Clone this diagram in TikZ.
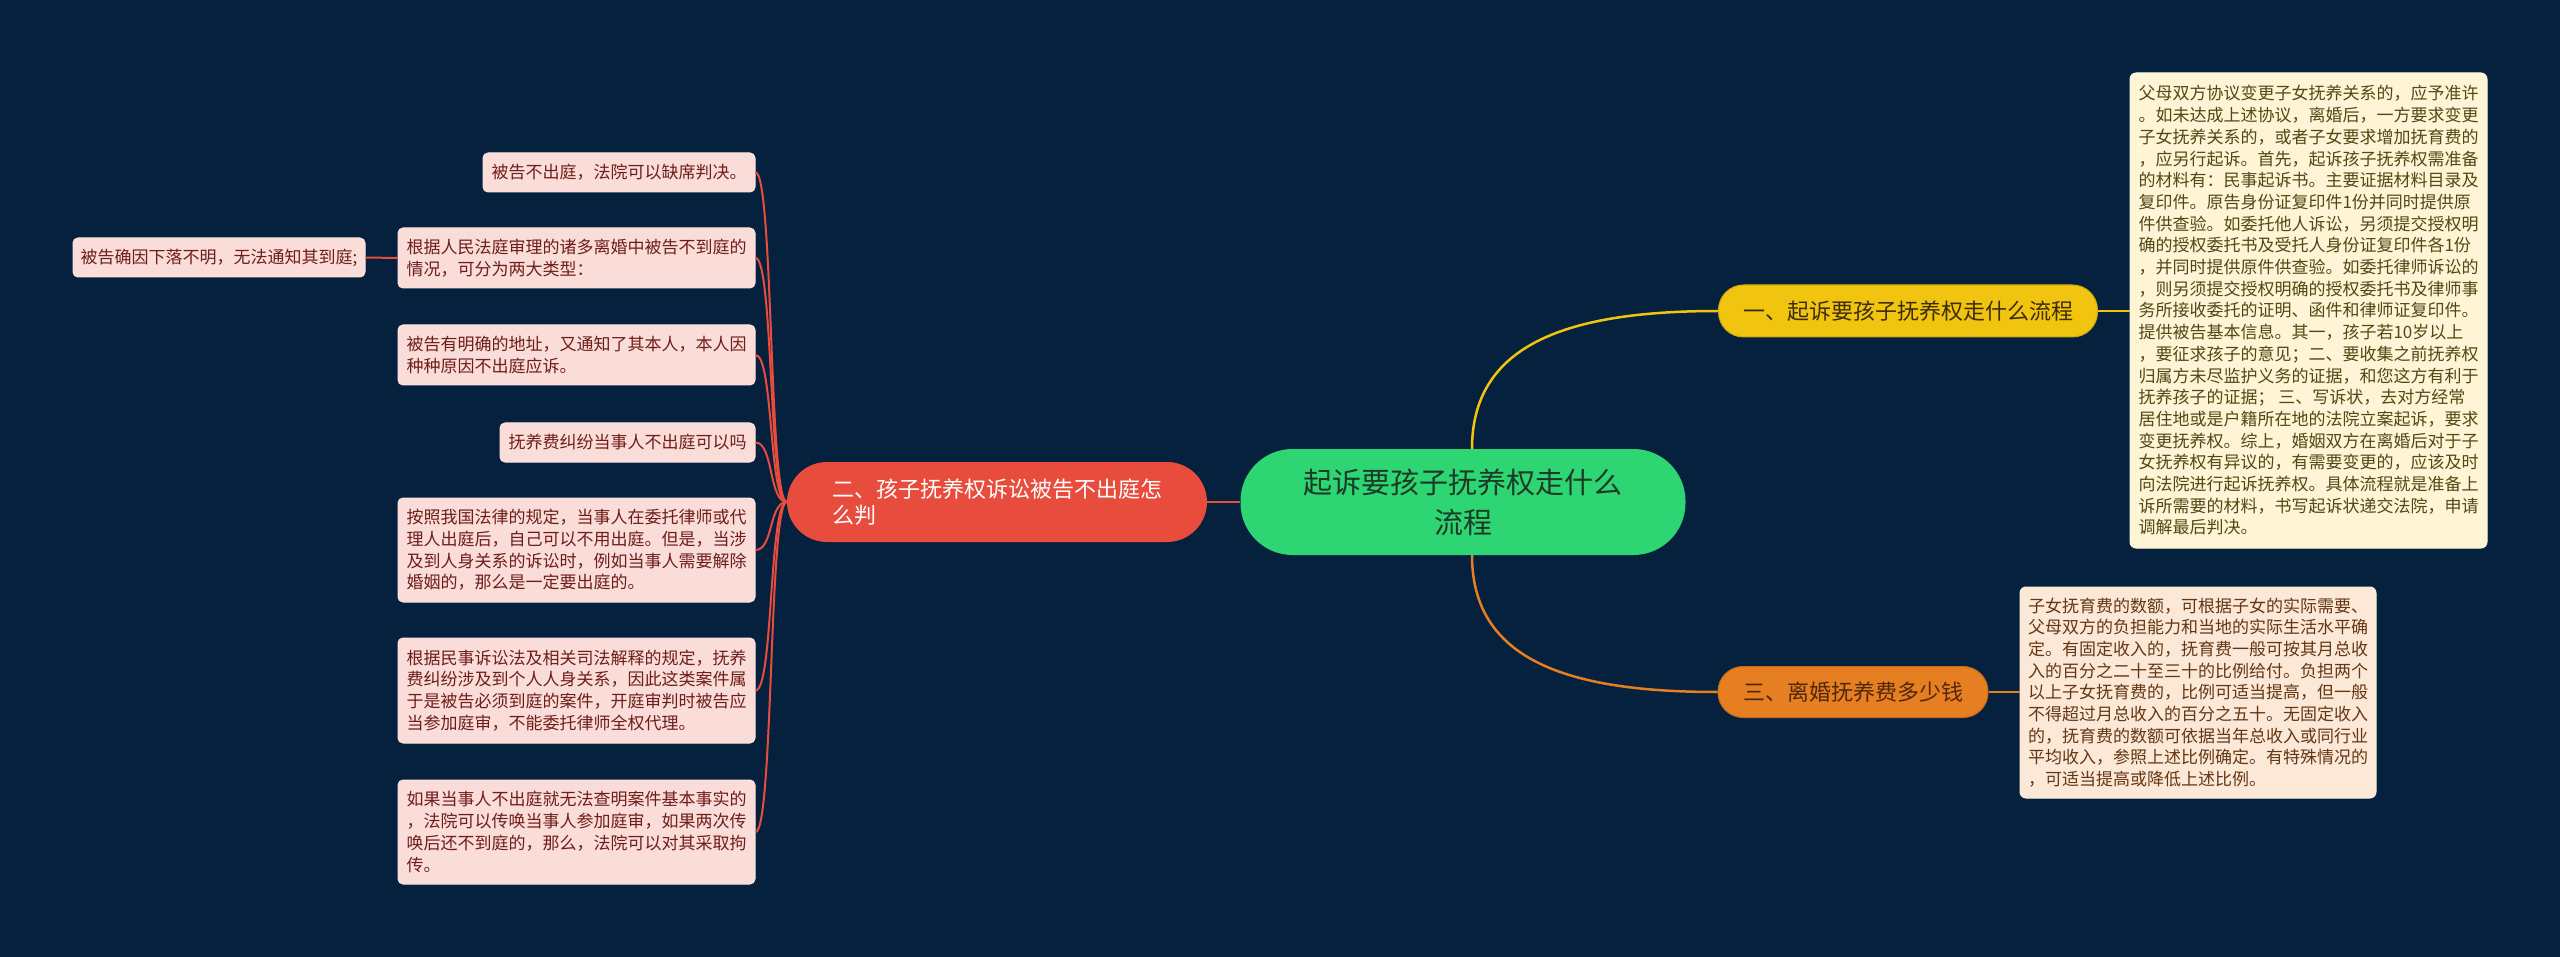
\documentclass[tikz,border=0pt]{standalone}
\usepackage{fontspec}
\setmainfont{Noto Sans CJK SC}
\definecolor{bg}{RGB}{5,33,62}
\definecolor{cgreen}{RGB}{46,213,115}
\definecolor{cgreentext}{RGB}{28,58,38}
\definecolor{cyellow}{RGB}{241,196,15}
\definecolor{cyellowtext}{RGB}{60,45,10}
\definecolor{cred}{RGB}{231,76,60}
\definecolor{corange}{RGB}{230,126,34}
\definecolor{corangetext}{RGB}{80,40,10}
\definecolor{pinkfill}{RGB}{250,220,217}
\definecolor{pinktext}{RGB}{110,30,25}
\definecolor{creamfill}{RGB}{253,245,213}
\definecolor{creamtext}{RGB}{85,70,20}
\definecolor{peachfill}{RGB}{252,232,215}
\definecolor{peachtext}{RGB}{100,55,20}
\begin{document}
\begin{tikzpicture}[x=1pt,y=-1pt,
  leafbox/.style={fill=pinkfill, draw=pinkfill!80!white, line width=1pt, text=pinktext, rounded corners=5pt, align=left, inner sep=0pt, font=\fontsize{17}{21.7}\selectfont},
  creambox/.style={fill=creamfill, draw=creamfill!80!white, line width=1pt, text=creamtext, rounded corners=6pt, align=left, inner sep=0pt, font=\fontsize{17}{21.7}\selectfont},
  peachbox/.style={fill=peachfill, draw=peachfill!80!white, line width=1pt, text=peachtext, rounded corners=6pt, align=left, inner sep=0pt, font=\fontsize{17}{21.7}\selectfont},
  leafline/.style={draw=cred, line width=2pt},
  mainline/.style={line width=2.5pt}
]
\fill[bg] (0,0) rectangle (2560,957);
\useasboundingbox (0,0) rectangle (2560,957);

% central
\node[fill=cgreen, text=cgreentext, rounded corners=52pt, minimum width=445pt, minimum height=106pt, align=center, inner sep=0pt, font=\fontsize{29}{40}\selectfont] (center) at (1463,502) {起诉要孩子抚养权走什么\\流程};

% branches
\node[fill=cyellow, draw=cyellow!85!black, line width=1pt, text=cyellowtext, rounded corners=25pt, minimum width=379pt, minimum height=52pt, inner sep=0pt, font=\fontsize{22}{26}\selectfont] (yellow) at (1908,311) {一、起诉要孩子抚养权走什么流程};
\node[fill=cred, text=white, rounded corners=40pt, minimum width=420pt, minimum height=80pt, align=left, inner sep=0pt, font=\fontsize{22}{26}\selectfont] (red) at (997,502) {二、孩子抚养权诉讼被告不出庭怎\\么判};
\node[fill=corange, draw=corange!85!black, line width=1pt, text=corangetext, rounded corners=25pt, minimum width=270pt, minimum height=51pt, inner sep=0pt, font=\fontsize{22}{26}\selectfont] (orange) at (1853,692) {三、离婚抚养费多少钱};

% right boxes
\node[creambox, minimum width=357pt, minimum height=475pt] (box1) at (2308.5,310.5) {父母双方协议变更子女抚养关系的，应予准许\\。如未达成上述协议，离婚后，一方要求变更\\子女抚养关系的，或者子女要求增加抚育费的\\，应另行起诉。首先，起诉孩子抚养权需准备\\的材料有：民事起诉书。主要证据材料目录及\\复印件。原告身份证复印件1份并同时提供原\\件供查验。如委托他人诉讼，另须提交授权明\\确的授权委托书及受托人身份证复印件各1份\\，并同时提供原件供查验。如委托律师诉讼的\\，则另须提交授权明确的授权委托书及律师事\\务所接收委托的证明、函件和律师证复印件。\\提供被告基本信息。其一，孩子若10岁以上\\，要征求孩子的意见；二、要收集之前抚养权\\归属方未尽监护义务的证据，和您这方有利于\\抚养孩子的证据； 三、写诉状，去对方经常\\居住地或是户籍所在地的法院立案起诉，要求\\变更抚养权。综上，婚姻双方在离婚后对于子\\女抚养权有异议的，有需要变更的，应该及时\\向法院进行起诉抚养权。具体流程就是准备上\\诉所需要的材料，书写起诉状递交法院，申请\\调解最后判决。};

\node[peachbox, minimum width=356pt, minimum height=211pt] (box2) at (2198,692.5) {子女抚育费的数额，可根据子女的实际需要、\\父母双方的负担能力和当地的实际生活水平确\\定。有固定收入的，抚育费一般可按其月总收\\入的百分之二十至三十的比例给付。负担两个\\以上子女抚育费的，比例可适当提高，但一般\\不得超过月总收入的百分之五十。无固定收入\\的，抚育费的数额可依据当年总收入或同行业\\平均收入，参照上述比例确定。有特殊情况的\\，可适当提高或降低上述比例。};

% left boxes
\node[leafbox, minimum width=272pt, minimum height=39pt] (L1) at (619,172.5) {被告不出庭，法院可以缺席判决。};
\node[leafbox, minimum width=357pt, minimum height=60pt] (L2) at (576.5,258) {根据人民法庭审理的诸多离婚中被告不到庭的\\情况，可分为两大类型：};
\node[leafbox, minimum width=292pt, minimum height=39pt] (L2a) at (219,257.5) {被告确因下落不明，无法通知其到庭;};
\node[leafbox, minimum width=357pt, minimum height=60pt] (L3) at (576.5,355) {被告有明确的地址，又通知了其本人，本人因\\种种原因不出庭应诉。};
\node[leafbox, minimum width=255pt, minimum height=39pt] (L4) at (627.5,442.5) {抚养费纠纷当事人不出庭可以吗};
\node[leafbox, minimum width=357pt, minimum height=104pt] (L5) at (576.5,550) {按照我国法律的规定，当事人在委托律师或代\\理人出庭后，自己可以不用出庭。但是，当涉\\及到人身关系的诉讼时，例如当事人需要解除\\婚姻的，那么是一定要出庭的。};
\node[leafbox, minimum width=357pt, minimum height=105pt] (L6) at (576.5,690.5) {根据民事诉讼法及相关司法解释的规定，抚养\\费纠纷涉及到个人人身关系，因此这类案件属\\于是被告必须到庭的案件，开庭审判时被告应\\当参加庭审，不能委托律师全权代理。};
\node[leafbox, minimum width=357pt, minimum height=104pt] (L7) at (576.5,832) {如果当事人不出庭就无法查明案件基本事实的\\，法院可以传唤当事人参加庭审，如果两次传\\唤后还不到庭的，那么，法院可以对其采取拘\\传。};

% connectors
\draw[mainline, cyellow] ([xshift=9pt]center.north) .. controls +(0,-105) and +(-150,0) .. (yellow.west);
\draw[mainline, corange] ([xshift=9pt]center.south) .. controls +(0,105) and +(-150,0) .. (orange.west);
\draw[mainline, cred] (center.west) -- (red.east);
\draw[mainline, cyellow] (yellow.east) -- (box1.west |- yellow.east);
\draw[mainline, corange] (orange.east) -- (box2.west |- orange.east);
\foreach \n in {L1,L2,L3,L4,L5,L6,L7}{
  \draw[leafline] (red.west) .. controls +(-18,0) and +(18,0) .. (\n.east);
}
\draw[leafline] (L2.west) -- (L2a.east);
\end{tikzpicture}
\end{document}
